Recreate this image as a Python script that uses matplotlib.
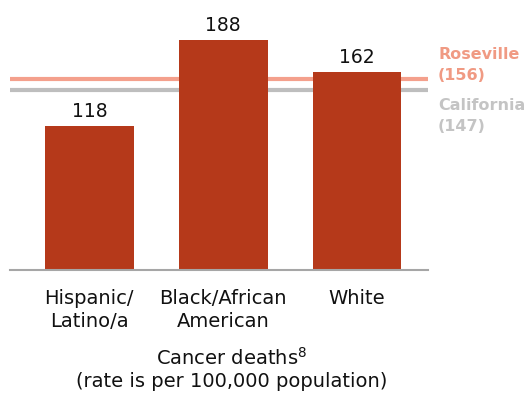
import matplotlib
matplotlib.use("Agg")
import matplotlib.pyplot as plt

categories = ["Hispanic/\nLatino/a", "Black/African\nAmerican", "White"]
values = [118, 188, 162]
roseville = 156
california = 147

plt.rcParams['font.family'] = ['DejaVu Sans']

fig = plt.figure(figsize=(5.31, 4.02), dpi=100)
W, H = 531, 402
ax = fig.add_axes([10 / W, 1 - 271 / H, (428 - 10) / W, 271 / H])

x = list(range(len(categories)))
bar_color = "#B5391A"
ax.bar(x, values, width=0.664, color=bar_color, zorder=2)
ax.axhline(roseville, color="#F4A08C", lw=3, zorder=1)
ax.axhline(california, color="#BEBEBE", lw=3, zorder=1)

for xi, v in zip(x, values):
    ax.text(xi, v + 5, str(v), ha="center", va="bottom", fontsize=13.5, color="#111111")

ax.set_xlim(-0.593, 2.53)
ax.set_ylim(0, 221.5)
ax.set_xticks(x)
ax.set_xticklabels(categories, fontsize=14, color="#111111", linespacing=1.25)
ax.tick_params(axis="x", length=0, pad=13)
ax.set_yticks([])
for s in ["top", "right", "left"]:
    ax.spines[s].set_visible(False)
ax.spines["bottom"].set_color("#A6A6A6")
ax.spines["bottom"].set_linewidth(1.5)

fig.text(438 / W, 1 - 65 / H, "Roseville\n(156)", ha="left", va="center",
         fontsize=11.5, fontweight="bold", color="#F09A83", linespacing=1.45)
fig.text(438 / W, 1 - 116 / H, "California\n(147)", ha="left", va="center",
         fontsize=11.5, fontweight="bold", color="#C4C4C4", linespacing=1.5)

fig.text(232 / W, 1 - 369 / H, "Cancer deaths$^{8}$\n(rate is per 100,000 population)",
         ha="center", va="center", fontsize=14, color="#111111", linespacing=1.25)

fig.savefig("out.png", dpi=100)
